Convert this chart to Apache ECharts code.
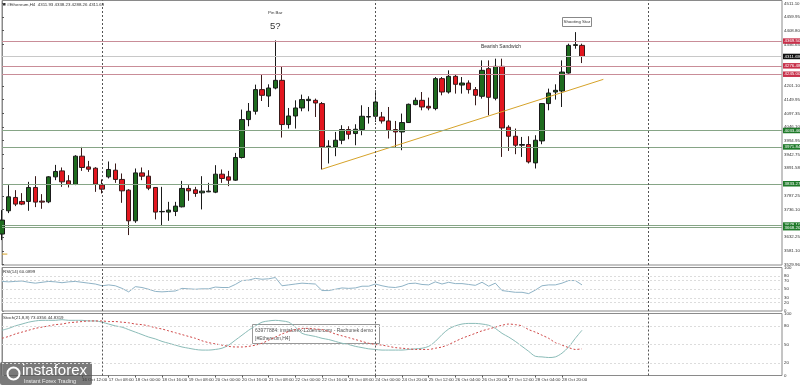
<!DOCTYPE html>
<html><head><meta charset="utf-8">
<script src="https://cdn.jsdelivr.net/npm/echarts@6/dist/echarts.min.js"></script>
<style>html,body{margin:0;padding:0;background:#fff}#c{width:800px;height:385px}</style>
</head><body><div id="c"></div>
<script>
// ---- data ----
const opens = [3644.3,3731.7,3781.9,3766.9,3766.9,3819.4,3768.0,3765.4,3859.2,3881.7,
3844.2,3830.7,3936.9,3896.7,3891.8,3829.2,3859.2,3884.3,3849.5,3809.3,
3694.1,3874.2,3861.8,3819.4,3727.9,3726.8,3729.4,3746.7,3815.7,3810.4,
3799.2,3802.9,3801.8,3869.3,3859.2,3846.8,3932.0,4074.5,4105.7,4187.1,
4163.1,4193.1,4222.0,4055.8,4088.0,4118.1,4145.8,4146.9,4134.6,3971.8,
3971.8,3996.9,4037.0,4022.0,4037.0,4084.3,4086.9,4084.3,4069.3,4037.0,
4028.0,4063.3,4130.8,4146.9,4124.4,4115.8,4228.4,4178.1,4237.0,4204.3,
4211.9,4187.1,4162.0,4265.9,4154.5,4274.5,4045.7,4011.9,3978.1,3980.8,
3911.7,3994.3,4134.6,4178.1,4181.8,4249.4,4353.3,4353.3];
const closes = [3696.8,3784.2,3756.8,3756.8,3819.4,3764.3,3764.3,3859.2,3879.5,3840.5,
3830.7,3936.9,3894.5,3888.1,3831.8,3813.1,3887.0,3849.5,3806.7,3694.1,
3874.2,3861.8,3816.8,3726.8,3729.4,3734.3,3749.3,3815.7,3806.7,3796.9,
3805.6,3805.6,3869.3,3853.2,3846.8,3932.0,4074.5,4105.7,4187.1,4165.7,
4193.1,4222.0,4055.8,4088.0,4118.1,4149.6,4150.7,4136.8,3971.8,3974.4,
3996.9,4037.0,4019.4,4038.2,4086.9,4085.8,4140.6,4069.3,4034.4,4028.0,
4063.3,4131.9,4146.9,4121.8,4118.1,4228.4,4178.1,4237.0,4207.0,4211.9,
4187.1,4165.7,4259.5,4158.2,4274.5,4043.0,4011.9,3978.1,3980.8,3915.5,
3996.9,4134.6,4174.3,4184.5,4253.1,4353.3,4355.9,4311.7];
const lows = [3621.7,3723.0,3749.3,3753.0,3731.7,3745.5,3739.2,3760.5,3846.8,3821.7,
3819.4,3828.1,3881.7,3878.0,3802.9,3796.9,3853.2,3836.7,3761.7,3640.5,
3686.6,3846.8,3809.3,3699.4,3674.3,3694.1,3711.8,3744.4,3769.2,3784.2,
3736.9,3801.8,3798.0,3836.7,3824.3,3844.2,3928.2,4049.4,4093.3,4144.3,
4121.8,4188.2,4007.0,4040.8,4040.8,4105.7,4105.7,4084.3,3887.0,3909.5,
3936.9,3981.9,4000.6,3978.1,4015.6,4059.5,4065.5,4059.5,4003.3,3969.5,
3959.4,4061.8,4128.2,4109.4,4109.4,4109.4,4165.7,4172.1,4172.1,4172.1,
4172.1,4128.2,4153.3,4090.7,4146.9,3934.2,3956.7,3944.4,3934.2,3909.5,
3890.7,3981.9,4109.4,4149.6,4121.8,4247.1,4340.9,4286.9];
const highs = [3734.3,3828.1,3809.3,3798.1,3840.5,3861.8,3794.3,3861.8,3904.2,3894.5,
3865.6,3940.6,3971.8,3919.2,3895.6,3849.5,3917.0,3909.5,3872.0,3813.1,
3890.7,3894.5,3884.3,3820.6,3821.7,3765.4,3765.4,3844.2,3828.1,3821.7,
3861.8,3836.7,3903.1,3887.0,3881.7,3949.2,4112.1,4136.8,4205.8,4244.5,
4207.0,4372.0,4274.5,4118.1,4146.9,4168.3,4162.0,4153.3,4140.6,3996.9,
4028.0,4053.2,4049.4,4056.9,4128.2,4121.8,4184.5,4103.1,4121.8,4069.3,
4097.1,4134.6,4157.1,4178.1,4157.1,4234.4,4234.4,4259.5,4244.5,4234.4,
4222.0,4196.8,4297.0,4297.0,4303.4,4303.4,4053.2,4040.8,4009.3,4011.9,
4015.6,4136.8,4190.8,4207.0,4297.0,4359.7,4403.2,4359.7];
const rsiValues = [68,67,68,69,66,64,66,68,67,65,
67,68,66,64,62,58,60,58,52,44,
56,54,50,45,44,45,46,52,51,50,
51,51,55,54,54,61,70,71,75,73,
74,77,58,60,62,64,63,62,47,47,
50,53,52,53,57,57,62,58,55,54,
57,63,64,61,60,67,62,66,63,63,
61,59,66,57,64,47,45,43,43,40,
48,58,60,60,64,70,70,60];
const stochMain = [73,76,80,83,86,88,89,89,89,90,
89,89,89,88,88,86,83,80,78,74,
70,66,62,59,55,52,49,46,44,42,
41,41,42,44,49,57,65,73,80,86,
88,89,88,86,78,68,65,63,60,58,
55,52,50,47,45,43,42,41,41,41,
41,42,43,44,47,55,66,75,80,83,
84,84,83,81,76,68,62,55,47,39,
31,30,29,30,36,46,60,73];
const stochSignal = [60,63,67,70,73,76,78,80,82,83,
85,86,87,88,88,88,87,87,86,85,
83,82,80,77,75,72,69,66,63,60,
56,53,51,49,47,46,46,47,49,52,
57,62,67,71,74,76,76,75,74,71,
67,64,61,58,55,52,50,49,47,45,
44,43,42,42,42,44,46,50,55,60,
64,68,72,75,78,81,83,82,80,74,
70,65,60,53,49,45,42,43];
const timeLabelIdx = [12,16,20,24,28,32,36,40,44,48,52,56,60,64,68,72,76,80,84];
const timeLabelText = ['16 Oct 12:00','17 Oct 08:00','18 Oct 00:00','18 Oct 16:00','19 Oct 08:00','20 Oct 00:00','20 Oct 16:00','21 Oct 08:00','22 Oct 00:00','22 Oct 16:00','23 Oct 08:00','24 Oct 00:00','24 Oct 20:00','25 Oct 12:00','26 Oct 04:00','26 Oct 20:00','27 Oct 12:00','28 Oct 04:00','28 Oct 20:00'];
const priceTicks = [4511.10,4459.95,4408.80,4356.65,4201.10,4149.95,4097.35,4046.10,3994.95,3942.75,3891.58,3787.25,3736.10,3632.25,3581.10,3529.96];
const resistanceLevels = [4369.50,4276.48,4245.00];
const supportLevels = [4033.46,3971.84,3833.27,3678.10,3668.20];
const lastPrice = 4311.69;
const trendLine = [[48.0,3888.1],[90.2,4225.7]];
const oldTrendLine = [[0,3569.0],[0.8,3569.0]];
const weekSeparators = [15,56,97];
const rsiLevels = [80,70,50,30,20];
const stochLevels = [80,50,20];
const totalSlots = 118;

// ---- build ----
const cats = [];
for (let i = 0; i < totalSlots; i++) {
  const k = timeLabelIdx.indexOf(i);
  cats.push(k >= 0 ? timeLabelText[k] : 'b' + i);
}
const candleData = opens.map((o, i) => [o, closes[i], lows[i], highs[i]]);
const FONT = 'Liberation Sans';
const SMALL = 4.4;
const axisCol = '#8a8a8a';

const tagLabel = (bg, txt) => ({show: true, position: 'end', distance: 1, formatter: txt, color: '#fff', backgroundColor: bg, padding: [1, 1.5, 0.5, 1.5], fontSize: SMALL, fontFamily: FONT});
const levelLines = [];
resistanceLevels.forEach(v => levelLines.push({
  yAxis: v, lineStyle: {color: '#c98d98', width: 1, type: 'solid'}, label: tagLabel('#c8304a', v.toFixed(2))
}));
supportLevels.forEach(v => levelLines.push({
  yAxis: v, lineStyle: {color: '#86a586', width: 1, type: 'solid'}, label: tagLabel('#1f7a2a', v.toFixed(2))
}));
levelLines.push({
  yAxis: lastPrice, lineStyle: {color: '#c8c8c8', width: 1, type: 'solid'}, label: tagLabel('#111', lastPrice.toFixed(2))
});
const sepLines = weekSeparators.map(v => ({xAxis: v, lineStyle: {color: '#555', width: 1, type: [2, 2]}, label: {show: false}}));

const gridBase = {left: 2, right: 18, show: true, borderColor: axisCol, borderWidth: 1, containLabel: false, outerBoundsMode: 'none'};
const grids = [
  Object.assign({top: 0.5, height: 264.5}, gridBase),
  Object.assign({top: 267.5, height: 43.5}, gridBase),
  Object.assign({top: 313.5, height: 62}, gridBase)
];
const catAxis = (g, showLabels) => ({
  type: 'category', gridIndex: g, data: cats, boundaryGap: false,
  axisLine: {show: false}, splitLine: {show: false},
  axisTick: {show: showLabels, interval: (i) => timeLabelIdx.indexOf(i) >= 0, length: 2, lineStyle: {color: '#555'}},
  axisLabel: {show: showLabels, interval: (i) => timeLabelIdx.indexOf(i) >= 0, align: 'left', fontSize: SMALL, color: '#333', margin: 2.5, fontFamily: FONT,
    hideOverlap: false, showMinLabel: true, showMaxLabel: true}
});
const valX = (g) => ({type: 'value', gridIndex: g, min: 0, max: totalSlots - 1, show: false});

const yLabel = {fontSize: SMALL, color: '#333', margin: 2, fontFamily: FONT, showMinLabel: true, showMaxLabel: true};
const option = {
  animation: false,
  backgroundColor: '#fff',
  grid: grids,
  xAxis: [catAxis(0, false), catAxis(1, false), catAxis(2, true), valX(0), valX(1), valX(2)],
  yAxis: [
    {type: 'value', gridIndex: 0, position: 'right', min: 3528, max: 4522, splitLine: {show: false},
     axisLine: {show: true, lineStyle: {color: axisCol}},
     axisTick: {show: true, length: 2, customValues: priceTicks, lineStyle: {color: '#555'}},
     axisLabel: Object.assign({customValues: priceTicks, formatter: v => v.toFixed(2)}, yLabel)},
    {type: 'value', gridIndex: 1, position: 'right', min: 0, max: 100, splitLine: {show: false},
     axisLine: {show: true, lineStyle: {color: axisCol}},
     axisTick: {show: true, length: 2, customValues: [0, 20, 30, 50, 70, 80, 100]},
     axisLabel: Object.assign({customValues: [0, 20, 30, 50, 70, 80, 100]}, yLabel)},
    {type: 'value', gridIndex: 2, position: 'right', min: 0, max: 100, splitLine: {show: false},
     axisLine: {show: true, lineStyle: {color: axisCol}},
     axisTick: {show: true, length: 2, customValues: [0, 20, 50, 80, 100]},
     axisLabel: Object.assign({customValues: [0, 20, 50, 80, 100]}, yLabel)}
  ],
  series: [
    {type: 'candlestick', xAxisIndex: 0, yAxisIndex: 0, data: candleData, barWidth: 5,
     itemStyle: {color: '#1e6b1e', color0: '#e3161f', borderColor: '#1a1a1a', borderColor0: '#3a1a1a', borderWidth: 1},
     markLine: {silent: true, symbol: 'none', animation: false, data: levelLines}},
    {type: 'line', xAxisIndex: 3, yAxisIndex: 0, data: trendLine, symbol: 'none', lineStyle: {color: '#d6a32a', width: 1},
     markLine: {silent: true, symbol: 'none', data: sepLines}},
    {type: 'line', xAxisIndex: 3, yAxisIndex: 0, data: oldTrendLine, symbol: 'none', lineStyle: {color: '#d6a32a', width: 1}},
    {type: 'line', xAxisIndex: 1, yAxisIndex: 1, data: rsiValues, symbol: 'none', lineStyle: {color: '#8fb3c6', width: 1},
     markLine: {silent: true, symbol: 'none', data: rsiLevels.map(v => ({yAxis: v, lineStyle: {color: '#dcdcdc', width: 1, type: [2, 2]}, label: {show: false}}))}},
    {type: 'line', xAxisIndex: 4, yAxisIndex: 1, data: [], markLine: {silent: true, symbol: 'none', data: sepLines}},
    {type: 'line', xAxisIndex: 2, yAxisIndex: 2, data: stochMain, symbol: 'none', smooth: 0.3, lineStyle: {color: '#8bbcb8', width: 1},
     markLine: {silent: true, symbol: 'none', data: stochLevels.map(v => ({yAxis: v, lineStyle: {color: '#dcdcdc', width: 1, type: [2, 2]}, label: {show: false}}))}},
    {type: 'line', xAxisIndex: 2, yAxisIndex: 2, data: stochSignal, symbol: 'none', smooth: 0.3, lineStyle: {color: '#d04848', width: 1, type: [2, 2]}},
    {type: 'line', xAxisIndex: 5, yAxisIndex: 2, data: [], markLine: {silent: true, symbol: 'none', data: sepLines}}
  ],
  graphic: [
    {type: 'rect', left: 3, top: 3, shape: {width: 2.5, height: 2.5}, style: {fill: '#333'}},
    {type: 'text', left: 7, top: 2.5, style: {text: '#Ethereum,H4  4311.93 4338.23 4288.26 4311.69', fontSize: SMALL, fill: '#333', fontFamily: FONT}},
    {type: 'text', left: 268, top: 11, style: {text: 'Pin Bar', fontSize: SMALL, fill: '#333', fontFamily: FONT}},
    {type: 'text', left: 270, top: 21, style: {text: '5?', fontSize: 9.5, fill: '#333', fontFamily: FONT}},
    {type: 'text', left: 481, top: 44.5, style: {text: 'Bearish Sandwich', fontSize: 5, fill: '#333', fontFamily: FONT}},
    {type: 'rect', left: 562, top: 17, shape: {width: 29, height: 9}, style: {fill: '#fff', stroke: '#888', lineWidth: 1}},
    {type: 'text', left: 563.5, top: 19.5, style: {text: 'Shooting Star', fontSize: SMALL, fill: '#333', fontFamily: FONT}},
    {type: 'text', left: 3, top: 270, style: {text: 'RSI(14) 60.0899', fontSize: SMALL, fill: '#333', fontFamily: FONT}},
    {type: 'text', left: 3, top: 316, style: {text: 'Stoch(21,8,8) 73.0356 44.8319', fontSize: SMALL, fill: '#333', fontFamily: FONT}},
    {type: 'rect', left: 252, top: 324, shape: {width: 127, height: 19}, style: {fill: '#fff', stroke: '#999', lineWidth: 1}},
    {type: 'text', left: 255, top: 327, style: {text: '63977884: instaforex-12demo.com - Rachunek demo -\n[#Ethereum,H4]', fontSize: 5, lineHeight: 7.5, fill: '#555', fontFamily: FONT}},
    {type: 'rect', left: 0, top: 362, shape: {width: 92, height: 23, r: 2}, style: {fill: 'rgba(85,85,85,0.78)'}},
    {type: 'circle', left: 5, top: 365, shape: {r: 6}, style: {fill: 'none', stroke: '#fff', lineWidth: 2}},
    {type: 'text', left: 22, top: 363, style: {text: 'instaforex', fontSize: 15, fill: '#fff', fontFamily: FONT}},
    {type: 'text', left: 24, top: 378, style: {text: 'Instant Forex Trading', fontSize: 5.5, fill: '#eee', fontFamily: FONT}}
  ]
};
echarts.init(document.getElementById('c'), null, {renderer: 'canvas'}).setOption(option);
</script></body></html>
